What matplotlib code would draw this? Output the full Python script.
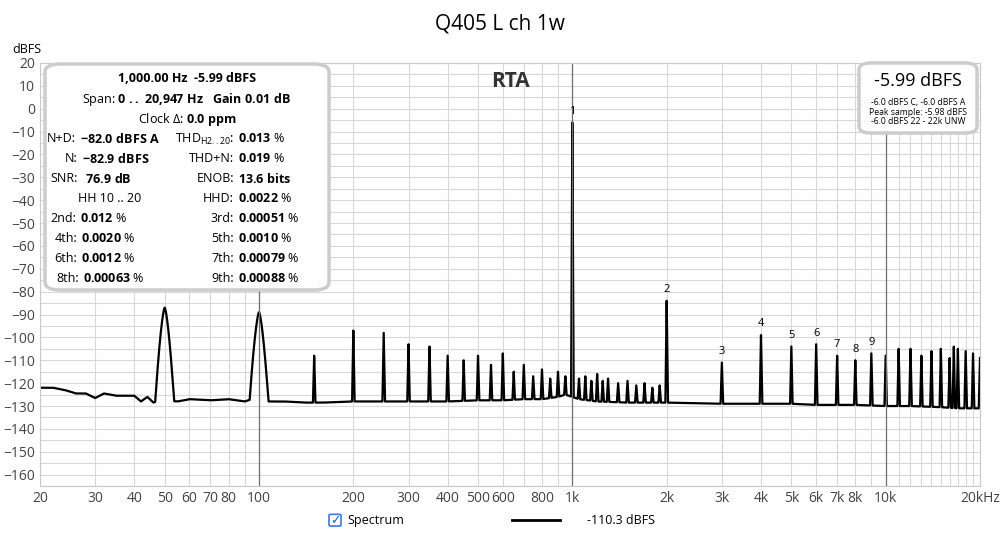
import numpy as np
import matplotlib
matplotlib.use("Agg")
import matplotlib.pyplot as plt
from matplotlib.patches import FancyBboxPatch
from matplotlib.ticker import FixedLocator, NullFormatter

plt.rcParams['font.family'] = 'Open Sans'
plt.rcParams['mathtext.fontset'] = 'custom'
plt.rcParams['mathtext.rm'] = 'Open Sans'
plt.rcParams['mathtext.it'] = 'Open Sans'
plt.rcParams['mathtext.bf'] = 'Open Sans:bold'

# Noise floor (Hz, dBFS)
floor_f = [20, 22, 24, 26, 28, 30, 32, 35, 38, 40, 42, 44, 46, 48, 55, 60, 70, 80, 90, 95, 105, 120, 140,
           160, 200, 250, 300, 400, 500, 600, 700, 800, 900, 950, 1050, 1200, 1500, 2000, 3000, 4000,
           5000, 6000, 8000, 10000, 12000, 15000, 17000, 20000]
floor_db = [-122, -122, -123, -124.5, -124.5, -126.5, -124.5, -125.5, -125.5, -125.5, -128, -126, -128.5,
            -127.5, -128, -127, -127.5, -127, -128, -127, -128, -128, -128.5,
            -128.5, -128, -128, -128, -128, -127.5, -127.5, -127, -127, -126, -125, -127, -128, -128.5,
            -128.5, -129, -129, -129, -129.5, -129.5, -130, -130, -130.5, -131, -131]

# Peaks (Hz, dBFS)
peak_f = [50, 100, 150, 200, 250, 300, 350, 400, 450, 500, 550, 600, 650, 700, 750, 800, 850, 900, 950,
          1000, 1050, 1100, 1150, 1200, 1250, 1300, 1400, 1500, 1600, 1700, 1800, 1900,
          2000, 3000, 4000, 5000, 6000, 7000, 8000, 9000, 10000, 11000, 12000, 13000, 14000,
          15000, 16000, 16500, 17000, 18000, 19000, 20000]
peak_db = [-87, -89, -108, -97, -98, -103, -104, -108, -110, -108, -112, -107, -115, -112, -117, -114, -118, -115, -117,
           -6, -118, -117, -119, -116, -119, -118, -120, -119, -121, -120, -122, -121,
           -84, -111, -99, -104, -103, -108, -110, -107, -108, -105, -105, -108, -106,
           -105, -109, -104, -105, -106, -107, -109]

harm_f = [1000, 2000, 3000, 4000, 5000, 6000, 7000, 8000, 9000]
harm_db = [-6, -84, -111, -99, -104, -103, -108, -110, -107]
harm_lbl = ['1', '2', '3', '4', '5', '6', '7', '8', '9']

fig = plt.figure(figsize=(10, 5.33), dpi=100)
ax = fig.add_axes([0.04, 0.088, 0.94, 0.794])

x = np.sort(np.concatenate([np.logspace(np.log10(20), np.log10(20000), 6000), peak_f]))
lx = np.log10(x)
y = np.interp(lx, np.log10(floor_f), floor_db)
for f, d in zip(peak_f, peak_db):
    w = 0.03 if f < 120 else 0.004
    base = np.interp(np.log10(f), np.log10(floor_f), floor_db)
    r = np.abs(lx - np.log10(f)) / w
    spike = d - (d - base) * (r ** 1.5 if f < 120 else r)
    y = np.maximum(y, np.where(r < 1, spike, -999))
ax.semilogx(x, y, color='black', lw=1.6)

for f, d, t in zip(harm_f, harm_db, harm_lbl):
    ax.text(f, d + 2.5, t, ha='center', va='bottom', fontsize=8)

ax.set_xlim(20, 20000)
ax.set_ylim(-165, 20)
major = [20, 30, 40, 50, 60, 70, 80, 100, 200, 300, 400, 500, 600, 800, 1000, 2000, 3000, 4000, 5000,
         6000, 7000, 8000, 10000, 20000]
labels = ['20', '30', '40', '50', '60', '70', '80', '100', '200', '300', '400', '500', '600', '800', '1k',
          '2k', '3k', '4k', '5k', '6k', '7k', '8k', '10k', '20kHz']
ax.xaxis.set_major_locator(FixedLocator(major))
ax.set_xticklabels(labels)
ax.xaxis.set_minor_locator(FixedLocator([90, 700, 900, 9000, 11000, 12000, 13000, 14000, 15000, 16000, 17000, 18000, 19000]))
ax.xaxis.set_minor_formatter(NullFormatter())
ax.set_yticks(np.arange(-160, 21, 10))
ax.set_yticks(np.arange(-165, 21, 5), minor=True)
ax.grid(True, which='both', color='#d8d8d8', lw=0.8)
for f in [100, 1000, 10000]:
    ax.axvline(f, color='#707070', lw=0.9)
ax.tick_params(length=0, labelsize=10, colors='#444444', which='both')
for s in ax.spines.values():
    s.set_color('#c8c8c8')
ax.set_axisbelow(True)

fig.text(0.5, 0.955, 'Q405 L ch 1w', ha='center', va='center', fontsize=15)
fig.text(0.012, 0.908, 'dBFS', fontsize=9, va='center')
ax.text(0.5, 0.955, 'RTA', transform=ax.transAxes, ha='center', va='center', fontsize=15,
        fontweight='bold', color='#333333')

def fy(px):
    return 1 - px / 533.0

box = FancyBboxPatch((0.045, fy(290)), 0.284, fy(64) - fy(290), boxstyle='round,pad=0,rounding_size=0.015',
                     transform=fig.transFigure, fc='white', ec='#cccccc', lw=2.5, zorder=5)
fig.patches.append(box)
fs = 9
fig.text(0.187, fy(79), '1,000.00 Hz  -5.99 dBFS', ha='center', va='center', fontsize=fs, fontweight='bold', zorder=6)
fig.text(0.187, fy(99), 'Span: $\\bf{0\\ ..\\ 20{,}947\\ Hz}$   $\\bf{Gain\\ 0.01\\ dB}$', ha='center', va='center', fontsize=fs, zorder=6)
fig.text(0.187, fy(119), 'Clock Δ: $\\bf{0.0\\ ppm}$', ha='center', va='center', fontsize=fs, zorder=6)
rows = [
    ('N+D:', '$\\bf{-82.0\\ dBFS\\ A}$', 'THD$_{\\mathrm{H2..20}}$:', '$\\bf{0.013}$ %'),
    ('N:', '$\\bf{-82.9\\ dBFS}$', 'THD+N:', '$\\bf{0.019}$ %'),
    ('SNR:', ' $\\bf{76.9\\ dB}$', 'ENOB:', '$\\bf{13.6\\ bits}$'),
    (None, None, 'HHD:', '$\\bf{0.0022}$ %'),
    ('2nd:', '$\\bf{0.012}$ %', '3rd:', '$\\bf{0.00051}$ %'),
    ('4th:', '$\\bf{0.0020}$ %', '5th:', '$\\bf{0.0010}$ %'),
    ('6th:', '$\\bf{0.0012}$ %', '7th:', '$\\bf{0.00079}$ %'),
    ('8th:', '$\\bf{0.00063}$ %', '9th:', '$\\bf{0.00088}$ %'),
]
lcol = [0.076, 0.078, 0.078, None, 0.076, 0.077, 0.077, 0.079]
for i, (l1, v1, l2, v2) in enumerate(rows):
    yp = fy(139 + 20.0 * i)
    if l1 is None:
        fig.text(0.11, yp, 'HH 10 .. 20', ha='center', va='center', fontsize=fs, zorder=6)
    else:
        fig.text(lcol[i], yp, l1, ha='right', va='center', fontsize=fs, zorder=6)
        fig.text(lcol[i] + 0.004, yp, v1, ha='left', va='center', fontsize=fs, zorder=6)
    fig.text(0.234, yp, l2, ha='right', va='center', fontsize=fs, zorder=6)
    fig.text(0.238, yp, v2, ha='left', va='center', fontsize=fs, zorder=6)

box2 = FancyBboxPatch((0.859, fy(133)), 0.118, fy(63) - fy(133), boxstyle='round,pad=0,rounding_size=0.012',
                      transform=fig.transFigure, fc='white', ec='#cccccc', lw=2.5, zorder=5)
fig.patches.append(box2)
fig.text(0.918, fy(81), '-5.99 dBFS', ha='center', va='center', fontsize=13, zorder=6)
for i, s in enumerate(['-6.0 dBFS C, -6.0 dBFS A', 'Peak sample: -5.98 dBFS', '-6.0 dBFS 22 - 22k UNW']):
    fig.text(0.918, fy(103 + 9.5 * i), s, ha='center', va='center', fontsize=6.2, zorder=6)

cb = FancyBboxPatch((0.329, 0.013), 0.012, 0.022, boxstyle='round,pad=0,rounding_size=0.002',
                    transform=fig.transFigure, fc='white', ec='#3a7bd5', lw=1.2)
fig.patches.append(cb)
fig.text(0.335, 0.024, '✓', ha='center', va='center', fontsize=9, color='#1f5fbf', fontfamily='DejaVu Sans')
fig.text(0.347, 0.024, 'Spectrum', ha='left', va='center', fontsize=9)
fig.lines.append(plt.Line2D([0.512, 0.56], [0.024, 0.024], transform=fig.transFigure, color='black', lw=2))
fig.text(0.587, 0.024, '-110.3 dBFS', ha='left', va='center', fontsize=9)

fig.savefig('out.png', dpi=100)
